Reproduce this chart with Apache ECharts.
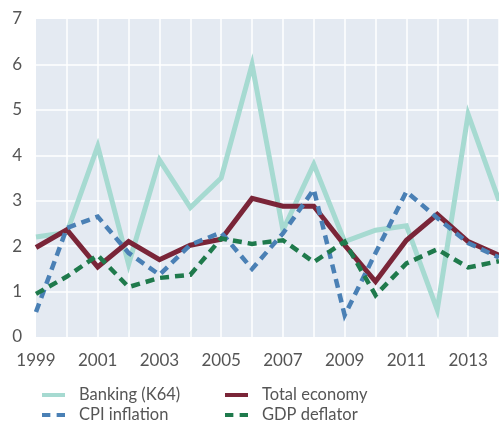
<!DOCTYPE html>
<html>
<head>
<meta charset="utf-8">
<script src="https://cdn.jsdelivr.net/npm/echarts@6/dist/echarts.min.js"></script>
<style>
  html, body { margin: 0; padding: 0; background: #fff; }
  #chart { width: 499px; height: 423px; }
</style>
</head>
<body>
<div id="chart"></div>
<script>
// years on the x axis
const years = ['1999', '2000', '2001', '2002', '2003', '2004', '2005', '2006',
  '2007', '2008', '2009', '2010', '2011', '2012', '2013', '2014']

// per cent
const banking = [2.2, 2.3, 4.2, 1.6, 3.9, 2.85, 3.5, 6.0, 2.35, 3.8, 2.1, 2.35, 2.45, 0.6, 4.9, 3.0]
const totalEconomy = [1.97, 2.36, 1.54, 2.1, 1.7, 2.02, 2.15, 3.05, 2.88, 2.88, 2.02, 1.22, 2.13, 2.7, 2.1, 1.8]
const cpiInflation = [0.55, 2.4, 2.65, 1.85, 1.37, 2.03, 2.3, 1.5, 2.28, 3.25, 0.48, 1.85, 3.2, 2.62, 2.07, 1.75]
const gdpDeflator = [0.95, 1.33, 1.8, 1.1, 1.3, 1.37, 2.17, 2.05, 2.13, 1.65, 2.1, 0.92, 1.62, 1.93, 1.53, 1.67]

const font = 'Lato, "Open Sans", sans-serif'
const textColor = '#555'

const chart = echarts.init(document.getElementById('chart'))

const line = (name, data, color, dashed) => ({
  name,
  type: 'line',
  data,
  symbol: 'none',
  lineStyle: {
    color,
    width: dashed ? 4.5 : 5,
    type: dashed ? [9, 6] : 'solid',
    cap: 'butt',
    join: 'miter'
  },
  itemStyle: { color },
  emphasis: { disabled: true }
})

// legend icons: solid bar and two-dash bar
const solidIcon = 'path://M0,4L23,4L23,8L0,8Z'
const dashIcon = 'path://M0,4L8,4L8,8L0,8ZM14,4L22,4L22,8L14,8Z'

const legendBase = {
  orient: 'vertical',
  top: 380,
  height: 80,
  itemWidth: 23,
  itemHeight: 12,
  itemGap: 0,
  textStyle: { fontFamily: font, fontSize: 16.5, lineHeight: 20, color: textColor, padding: [0, 0, 0, 9] },
  selectedMode: false
}

chart.setOption({
  animation: false,
  grid: {
    left: 36,
    top: 19,
    bottom: 86,
    right: -5,
    show: true,
    backgroundColor: '#e4eaf2',
    borderWidth: 0
  },
  legend: [
    Object.assign({}, legendBase, { left: 37, data: [
      { name: 'Banking (K64)', icon: solidIcon },
      { name: 'CPI inflation', icon: dashIcon }
    ] }),
    Object.assign({}, legendBase, { left: 220, data: [
      { name: 'Total economy', icon: solidIcon },
      { name: 'GDP deflator', icon: dashIcon }
    ] })
  ],
  xAxis: {
    type: 'category',
    data: years,
    boundaryGap: false,
    axisLine: { show: false },
    axisTick: { show: false },
    axisLabel: {
      interval: 1,
      margin: 15,
      fontFamily: font,
      fontSize: 17,
      color: textColor
    },
    splitLine: {
      show: true,
      interval: 0,
      showMinLine: false,
      lineStyle: { color: '#fff', width: 1.5 }
    }
  },
  yAxis: {
    type: 'value',
    min: 0,
    max: 7,
    interval: 1,
    axisLine: { show: false },
    axisTick: { show: false },
    axisLabel: {
      margin: 14,
      fontFamily: font,
      fontSize: 17,
      color: textColor
    },
    splitLine: {
      showMinLine: false,
      showMaxLine: false,
      lineStyle: { color: '#fff', width: 1.5 }
    }
  },
  series: [
    line('Banking (K64)', banking, '#a6dad1', false),
    line('Total economy', totalEconomy, '#7a2538', false),
    line('CPI inflation', cpiInflation, '#4a80b5', true),
    line('GDP deflator', gdpDeflator, '#1f7a4c', true)
  ]
})
</script>
</body>
</html>
